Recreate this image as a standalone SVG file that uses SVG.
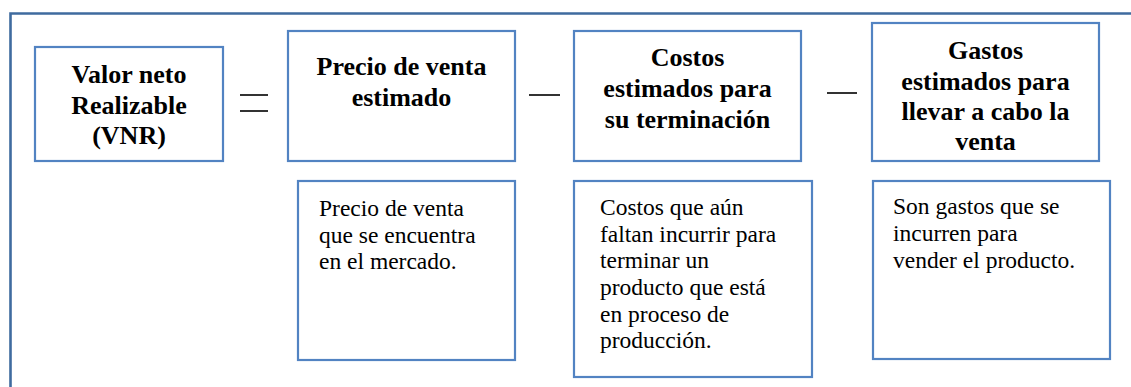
<svg xmlns="http://www.w3.org/2000/svg" width="1131" height="387" viewBox="0 0 1131 387">
<style>
.box{fill:#fff;stroke:#5283c2;stroke-width:2.2}
.frame{fill:none;stroke:#3f6b9f;stroke-width:2.6}
.op{stroke:#000;stroke-width:1.6}
.h{font-weight:bold;font-size:26px;text-anchor:middle;fill:#000}
.d{font-size:23.5px;fill:#000}
</style>
<rect width="1131" height="387" fill="#fff"/>
<path class="frame" d="M10.5,387 V13.5 H1131"/>
<g font-family="Liberation Serif, serif">
<g id="vnr">
<rect class="box" x="35" y="47" width="188" height="114"/>
<text class="h" x="129" y="83" font-family="Liberation Serif, serif">Valor neto</text>
<text class="h" x="129" y="114" font-family="Liberation Serif, serif">Realizable</text>
<text class="h" x="129" y="144" font-family="Liberation Serif, serif">(VNR)</text>
</g>
<g id="precio">
<rect class="box" x="288" y="31" width="227" height="130"/>
<text class="h" x="401.5" y="75" font-family="Liberation Serif, serif">Precio de venta</text>
<text class="h" x="401.5" y="106" font-family="Liberation Serif, serif">estimado</text>
</g>
<g id="costos">
<rect class="box" x="574" y="31" width="227" height="130"/>
<text class="h" x="687.5" y="66" font-family="Liberation Serif, serif">Costos</text>
<text class="h" x="687.5" y="97" font-family="Liberation Serif, serif">estimados para</text>
<text class="h" x="687.5" y="128" font-family="Liberation Serif, serif">su terminación</text>
</g>
<g id="gastos">
<rect class="box" x="872" y="23" width="227" height="138"/>
<text class="h" x="985.5" y="59" font-family="Liberation Serif, serif">Gastos</text>
<text class="h" x="985.5" y="90" font-family="Liberation Serif, serif">estimados para</text>
<text class="h" x="985.5" y="120" font-family="Liberation Serif, serif">llevar a cabo la</text>
<text class="h" x="985.5" y="150" font-family="Liberation Serif, serif">venta</text>
</g>
<g id="precio-desc">
<rect class="box" x="298" y="181" width="217" height="179"/>
<text class="d" x="319" y="215.5" font-family="Liberation Serif, serif">Precio de venta</text>
<text class="d" x="319" y="242.5" font-family="Liberation Serif, serif">que se encuentra</text>
<text class="d" x="319" y="269" font-family="Liberation Serif, serif">en el mercado.</text>
</g>
<g id="costos-desc">
<rect class="box" x="574" y="181" width="238" height="196"/>
<text class="d" x="600" y="215" font-family="Liberation Serif, serif">Costos que aún</text>
<text class="d" x="600" y="241.5" font-family="Liberation Serif, serif">faltan incurrir para</text>
<text class="d" x="600" y="268.3" font-family="Liberation Serif, serif">terminar un</text>
<text class="d" x="600" y="295" font-family="Liberation Serif, serif">producto que está</text>
<text class="d" x="600" y="321.7" font-family="Liberation Serif, serif">en proceso de</text>
<text class="d" x="600" y="348.3" font-family="Liberation Serif, serif">producción.</text>
</g>
<g id="gastos-desc">
<rect class="box" x="873" y="181" width="237" height="178"/>
<text class="d" x="893" y="214" font-family="Liberation Serif, serif">Son gastos que se</text>
<text class="d" x="893" y="241" font-family="Liberation Serif, serif">incurren para</text>
<text class="d" x="893" y="268" font-family="Liberation Serif, serif">vender el producto.</text>
</g>
</g>
<g id="connectors">
<line class="op" x1="240" y1="95" x2="268" y2="95"/>
<line class="op" x1="240" y1="111" x2="268" y2="111"/>
<line class="op" x1="529" y1="95" x2="560" y2="95"/>
<line class="op" x1="827" y1="93" x2="857" y2="93"/>
</g>
</svg>
